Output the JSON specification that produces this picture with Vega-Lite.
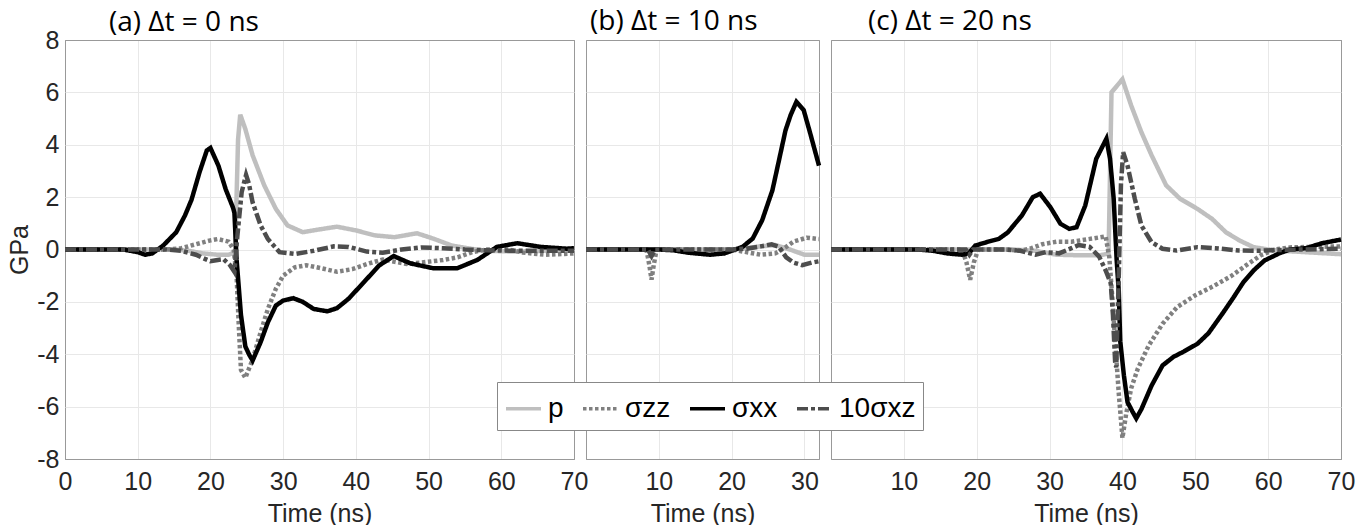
{
"$schema": "https://vega.github.io/schema/vega-lite/v6.json",
"padding": {"left": 7, "top": 7, "right": 0, "bottom": 0},
"background": "white",
"spacing": 12,
"bounds": "flush",
"data": {"values": [
{"g":"a","s":"p","t":0,"v":0},{"g":"a","s":"p","t":10,"v":0},{"g":"a","s":"p","t":15,"v":0},{"g":"a","s":"p","t":17,"v":-0.05},{"g":"a","s":"p","t":19,"v":-0.15},{"g":"a","s":"p","t":21,"v":-0.2},{"g":"a","s":"p","t":22.5,"v":-0.2},{"g":"a","s":"p","t":23.4,"v":-0.1},{"g":"a","s":"p","t":23.8,"v":4.2},{"g":"a","s":"p","t":24.1,"v":5.15},{"g":"a","s":"p","t":24.8,"v":4.6},{"g":"a","s":"p","t":25.8,"v":3.6},{"g":"a","s":"p","t":27.4,"v":2.45},{"g":"a","s":"p","t":29,"v":1.55},{"g":"a","s":"p","t":30.6,"v":0.92},{"g":"a","s":"p","t":32.7,"v":0.66},{"g":"a","s":"p","t":34.8,"v":0.76},{"g":"a","s":"p","t":37.4,"v":0.87},{"g":"a","s":"p","t":40,"v":0.73},{"g":"a","s":"p","t":42.6,"v":0.54},{"g":"a","s":"p","t":45.3,"v":0.47},{"g":"a","s":"p","t":48.4,"v":0.62},{"g":"a","s":"p","t":50.6,"v":0.42},{"g":"a","s":"p","t":53.2,"v":0.15},{"g":"a","s":"p","t":55.8,"v":0.03},{"g":"a","s":"p","t":58,"v":-0.05},{"g":"a","s":"p","t":62,"v":-0.08},{"g":"a","s":"p","t":66,"v":-0.05},{"g":"a","s":"p","t":70,"v":-0.05},
{"g":"a","s":"σzz","t":0,"v":0},{"g":"a","s":"σzz","t":14,"v":0},{"g":"a","s":"σzz","t":16,"v":0.05},{"g":"a","s":"σzz","t":18,"v":0.2},{"g":"a","s":"σzz","t":20,"v":0.35},{"g":"a","s":"σzz","t":21,"v":0.4},{"g":"a","s":"σzz","t":22.5,"v":0.3},{"g":"a","s":"σzz","t":23.2,"v":0},{"g":"a","s":"σzz","t":23.6,"v":-1.0},{"g":"a","s":"σzz","t":23.9,"v":-2.9},{"g":"a","s":"σzz","t":24.2,"v":-4.6},{"g":"a","s":"σzz","t":24.8,"v":-4.9},{"g":"a","s":"σzz","t":25.8,"v":-4.2},{"g":"a","s":"σzz","t":26.9,"v":-3.16},{"g":"a","s":"σzz","t":27.9,"v":-2.27},{"g":"a","s":"σzz","t":29,"v":-1.5},{"g":"a","s":"σzz","t":30,"v":-1.0},{"g":"a","s":"σzz","t":31.6,"v":-0.68},{"g":"a","s":"σzz","t":33.2,"v":-0.6},{"g":"a","s":"σzz","t":35.3,"v":-0.72},{"g":"a","s":"σzz","t":37.4,"v":-0.85},{"g":"a","s":"σzz","t":39.5,"v":-0.75},{"g":"a","s":"σzz","t":41.6,"v":-0.55},{"g":"a","s":"σzz","t":43.7,"v":-0.38},{"g":"a","s":"σzz","t":45,"v":-0.45},{"g":"a","s":"σzz","t":47,"v":-0.55},{"g":"a","s":"σzz","t":49,"v":-0.5},{"g":"a","s":"σzz","t":52,"v":-0.4},{"g":"a","s":"σzz","t":54,"v":-0.3},{"g":"a","s":"σzz","t":56,"v":-0.1},{"g":"a","s":"σzz","t":58,"v":0},{"g":"a","s":"σzz","t":61,"v":0},{"g":"a","s":"σzz","t":63,"v":-0.12},{"g":"a","s":"σzz","t":66,"v":-0.2},{"g":"a","s":"σzz","t":70,"v":-0.15},
{"g":"a","s":"σxx","t":0,"v":0},{"g":"a","s":"σxx","t":8,"v":0},{"g":"a","s":"σxx","t":10,"v":-0.1},{"g":"a","s":"σxx","t":11,"v":-0.2},{"g":"a","s":"σxx","t":12,"v":-0.15},{"g":"a","s":"σxx","t":13.5,"v":0.15},{"g":"a","s":"σxx","t":15.3,"v":0.66},{"g":"a","s":"σxx","t":16.5,"v":1.3},{"g":"a","s":"σxx","t":17.4,"v":1.9},{"g":"a","s":"σxx","t":18.5,"v":2.95},{"g":"a","s":"σxx","t":19.5,"v":3.78},{"g":"a","s":"σxx","t":20,"v":3.88},{"g":"a","s":"σxx","t":21.1,"v":3.2},{"g":"a","s":"σxx","t":22.1,"v":2.3},{"g":"a","s":"σxx","t":23.1,"v":1.6},{"g":"a","s":"σxx","t":23.3,"v":1.4},{"g":"a","s":"σxx","t":23.6,"v":-0.4},{"g":"a","s":"σxx","t":24.2,"v":-2.5},{"g":"a","s":"σxx","t":24.8,"v":-3.7},{"g":"a","s":"σxx","t":25.3,"v":-4.0},{"g":"a","s":"σxx","t":25.8,"v":-4.24},{"g":"a","s":"σxx","t":26.9,"v":-3.54},{"g":"a","s":"σxx","t":27.9,"v":-2.78},{"g":"a","s":"σxx","t":29,"v":-2.14},{"g":"a","s":"σxx","t":30,"v":-1.95},{"g":"a","s":"σxx","t":31.4,"v":-1.86},{"g":"a","s":"σxx","t":32.7,"v":-2.0},{"g":"a","s":"σxx","t":34.2,"v":-2.27},{"g":"a","s":"σxx","t":36.1,"v":-2.36},{"g":"a","s":"σxx","t":37.4,"v":-2.24},{"g":"a","s":"σxx","t":39,"v":-1.88},{"g":"a","s":"σxx","t":41.1,"v":-1.25},{"g":"a","s":"σxx","t":43.2,"v":-0.61},{"g":"a","s":"σxx","t":45.2,"v":-0.25},{"g":"a","s":"σxx","t":47.5,"v":-0.53},{"g":"a","s":"σxx","t":50.7,"v":-0.72},{"g":"a","s":"σxx","t":53.9,"v":-0.72},{"g":"a","s":"σxx","t":56.7,"v":-0.4},{"g":"a","s":"σxx","t":59.4,"v":0.1},{"g":"a","s":"σxx","t":62.2,"v":0.24},{"g":"a","s":"σxx","t":65.4,"v":0.1},{"g":"a","s":"σxx","t":69,"v":0.03},{"g":"a","s":"σxx","t":70,"v":0.05},
{"g":"a","s":"10σxz","t":0,"v":0},{"g":"a","s":"10σxz","t":14,"v":0},{"g":"a","s":"10σxz","t":16,"v":-0.05},{"g":"a","s":"10σxz","t":18,"v":-0.2},{"g":"a","s":"10σxz","t":19,"v":-0.33},{"g":"a","s":"10σxz","t":20,"v":-0.45},{"g":"a","s":"10σxz","t":21,"v":-0.4},{"g":"a","s":"10σxz","t":21.8,"v":-0.37},{"g":"a","s":"10σxz","t":22.7,"v":-0.6},{"g":"a","s":"10σxz","t":23.3,"v":-0.85},{"g":"a","s":"10σxz","t":23.7,"v":0.5},{"g":"a","s":"10σxz","t":24.3,"v":2.2},{"g":"a","s":"10σxz","t":24.9,"v":2.85},{"g":"a","s":"10σxz","t":25.3,"v":2.5},{"g":"a","s":"10σxz","t":25.8,"v":1.8},{"g":"a","s":"10σxz","t":26.9,"v":0.92},{"g":"a","s":"10σxz","t":27.9,"v":0.4},{"g":"a","s":"10σxz","t":29.5,"v":-0.1},{"g":"a","s":"10σxz","t":31.6,"v":-0.17},{"g":"a","s":"10σxz","t":34.2,"v":-0.05},{"g":"a","s":"10σxz","t":37,"v":0.12},{"g":"a","s":"10σxz","t":39,"v":0.1},{"g":"a","s":"10σxz","t":41.5,"v":-0.08},{"g":"a","s":"10σxz","t":43.7,"v":-0.12},{"g":"a","s":"10σxz","t":46.3,"v":0},{"g":"a","s":"10σxz","t":49,"v":0.08},{"g":"a","s":"10σxz","t":52,"v":0.05},{"g":"a","s":"10σxz","t":55,"v":0},{"g":"a","s":"10σxz","t":58,"v":-0.03},{"g":"a","s":"10σxz","t":62,"v":-0.05},{"g":"a","s":"10σxz","t":66,"v":-0.05},{"g":"a","s":"10σxz","t":70,"v":-0.05},
{"g":"b","s":"p","t":0,"v":0},{"g":"b","s":"p","t":20,"v":0},{"g":"b","s":"p","t":22,"v":0.05},{"g":"b","s":"p","t":24,"v":0.12},{"g":"b","s":"p","t":26,"v":0.17},{"g":"b","s":"p","t":28,"v":0},{"g":"b","s":"p","t":30,"v":-0.2},{"g":"b","s":"p","t":32,"v":-0.2},
{"g":"b","s":"σzz","t":0,"v":0},{"g":"b","s":"σzz","t":8.3,"v":0},{"g":"b","s":"σzz","t":8.7,"v":-0.6},{"g":"b","s":"σzz","t":9,"v":-1.15},{"g":"b","s":"σzz","t":9.3,"v":-0.6},{"g":"b","s":"σzz","t":9.7,"v":0},{"g":"b","s":"σzz","t":20,"v":0},{"g":"b","s":"σzz","t":22,"v":-0.1},{"g":"b","s":"σzz","t":24,"v":-0.2},{"g":"b","s":"σzz","t":26,"v":-0.15},{"g":"b","s":"σzz","t":27.5,"v":0.1},{"g":"b","s":"σzz","t":28.5,"v":0.3},{"g":"b","s":"σzz","t":30.3,"v":0.45},{"g":"b","s":"σzz","t":32,"v":0.4},
{"g":"b","s":"σxx","t":0,"v":0},{"g":"b","s":"σxx","t":10,"v":0},{"g":"b","s":"σxx","t":12,"v":-0.03},{"g":"b","s":"σxx","t":14,"v":-0.12},{"g":"b","s":"σxx","t":17,"v":-0.2},{"g":"b","s":"σxx","t":19,"v":-0.15},{"g":"b","s":"σxx","t":20.5,"v":0},{"g":"b","s":"σxx","t":21.5,"v":0.1},{"g":"b","s":"σxx","t":22.9,"v":0.42},{"g":"b","s":"σxx","t":24.2,"v":1.12},{"g":"b","s":"σxx","t":25.6,"v":2.26},{"g":"b","s":"σxx","t":26.5,"v":3.4},{"g":"b","s":"σxx","t":27.4,"v":4.55},{"g":"b","s":"σxx","t":28.1,"v":5.13},{"g":"b","s":"σxx","t":28.9,"v":5.64},{"g":"b","s":"σxx","t":29.9,"v":5.32},{"g":"b","s":"σxx","t":30.8,"v":4.43},{"g":"b","s":"σxx","t":32,"v":3.2},
{"g":"b","s":"10σxz","t":0,"v":0},{"g":"b","s":"10σxz","t":8.5,"v":0},{"g":"b","s":"10σxz","t":9,"v":-0.25},{"g":"b","s":"10σxz","t":9.5,"v":0},{"g":"b","s":"10σxz","t":20,"v":0},{"g":"b","s":"10σxz","t":22,"v":0.03},{"g":"b","s":"10σxz","t":24,"v":0.12},{"g":"b","s":"10σxz","t":25.5,"v":0.2},{"g":"b","s":"10σxz","t":26.5,"v":0.1},{"g":"b","s":"10σxz","t":27.5,"v":-0.3},{"g":"b","s":"10σxz","t":28.5,"v":-0.5},{"g":"b","s":"10σxz","t":29.7,"v":-0.6},{"g":"b","s":"10σxz","t":31,"v":-0.5},{"g":"b","s":"10σxz","t":32,"v":-0.45},
{"g":"c","s":"p","t":0,"v":0},{"g":"c","s":"p","t":20,"v":0},{"g":"c","s":"p","t":25,"v":0},{"g":"c","s":"p","t":28,"v":-0.05},{"g":"c","s":"p","t":31,"v":-0.2},{"g":"c","s":"p","t":34,"v":-0.22},{"g":"c","s":"p","t":37,"v":-0.22},{"g":"c","s":"p","t":38.1,"v":-0.15},{"g":"c","s":"p","t":38.5,"v":6.0},{"g":"c","s":"p","t":40,"v":6.5},{"g":"c","s":"p","t":41.2,"v":5.5},{"g":"c","s":"p","t":42.6,"v":4.48},{"g":"c","s":"p","t":44,"v":3.6},{"g":"c","s":"p","t":46,"v":2.45},{"g":"c","s":"p","t":47.9,"v":1.94},{"g":"c","s":"p","t":50.3,"v":1.55},{"g":"c","s":"p","t":52.3,"v":1.17},{"g":"c","s":"p","t":54.2,"v":0.66},{"g":"c","s":"p","t":56.1,"v":0.34},{"g":"c","s":"p","t":58,"v":0.09},{"g":"c","s":"p","t":60,"v":0},{"g":"c","s":"p","t":62,"v":-0.05},{"g":"c","s":"p","t":65,"v":-0.1},{"g":"c","s":"p","t":70,"v":-0.18},
{"g":"c","s":"σzz","t":0,"v":0},{"g":"c","s":"σzz","t":18,"v":0},{"g":"c","s":"σzz","t":18.6,"v":-0.5},{"g":"c","s":"σzz","t":19.1,"v":-1.16},{"g":"c","s":"σzz","t":19.6,"v":-0.5},{"g":"c","s":"σzz","t":20.2,"v":0},{"g":"c","s":"σzz","t":24,"v":0},{"g":"c","s":"σzz","t":26,"v":-0.05},{"g":"c","s":"σzz","t":27.5,"v":0.05},{"g":"c","s":"σzz","t":29,"v":0.2},{"g":"c","s":"σzz","t":31,"v":0.3},{"g":"c","s":"σzz","t":33,"v":0.3},{"g":"c","s":"σzz","t":35,"v":0.38},{"g":"c","s":"σzz","t":37.7,"v":0.5},{"g":"c","s":"σzz","t":38.2,"v":-0.3},{"g":"c","s":"σzz","t":38.6,"v":-1.8},{"g":"c","s":"σzz","t":39,"v":-3.5},{"g":"c","s":"σzz","t":39.5,"v":-5.5},{"g":"c","s":"σzz","t":40,"v":-7.2},{"g":"c","s":"σzz","t":40.5,"v":-6.3},{"g":"c","s":"σzz","t":41.2,"v":-5.3},{"g":"c","s":"σzz","t":42.1,"v":-4.56},{"g":"c","s":"σzz","t":43.6,"v":-3.67},{"g":"c","s":"σzz","t":45.5,"v":-2.84},{"g":"c","s":"σzz","t":47.5,"v":-2.2},{"g":"c","s":"σzz","t":50,"v":-1.75},{"g":"c","s":"σzz","t":52.5,"v":-1.4},{"g":"c","s":"σzz","t":55,"v":-1.0},{"g":"c","s":"σzz","t":57,"v":-0.6},{"g":"c","s":"σzz","t":59,"v":-0.22},{"g":"c","s":"σzz","t":61,"v":0},{"g":"c","s":"σzz","t":63,"v":0.08},{"g":"c","s":"σzz","t":66,"v":0.1},{"g":"c","s":"σzz","t":70,"v":0.12},
{"g":"c","s":"σxx","t":0,"v":0},{"g":"c","s":"σxx","t":12,"v":0},{"g":"c","s":"σxx","t":14,"v":-0.05},{"g":"c","s":"σxx","t":16,"v":-0.15},{"g":"c","s":"σxx","t":18,"v":-0.2},{"g":"c","s":"σxx","t":18.9,"v":-0.15},{"g":"c","s":"σxx","t":19.8,"v":0.15},{"g":"c","s":"σxx","t":21.6,"v":0.3},{"g":"c","s":"σxx","t":23,"v":0.4},{"g":"c","s":"σxx","t":24.3,"v":0.66},{"g":"c","s":"σxx","t":25,"v":0.9},{"g":"c","s":"σxx","t":26.2,"v":1.3},{"g":"c","s":"σxx","t":27.7,"v":2.0},{"g":"c","s":"σxx","t":28.7,"v":2.13},{"g":"c","s":"σxx","t":30.1,"v":1.62},{"g":"c","s":"σxx","t":31.5,"v":0.98},{"g":"c","s":"σxx","t":32.7,"v":0.79},{"g":"c","s":"σxx","t":33.7,"v":0.85},{"g":"c","s":"σxx","t":34.9,"v":1.68},{"g":"c","s":"σxx","t":36.4,"v":3.46},{"g":"c","s":"σxx","t":37.8,"v":4.23},{"g":"c","s":"σxx","t":38.3,"v":3.46},{"g":"c","s":"σxx","t":38.8,"v":1.94},{"g":"c","s":"σxx","t":39.2,"v":-0.36},{"g":"c","s":"σxx","t":39.5,"v":-1.6},{"g":"c","s":"σxx","t":39.7,"v":-3.5},{"g":"c","s":"σxx","t":40.2,"v":-4.8},{"g":"c","s":"σxx","t":40.7,"v":-5.83},{"g":"c","s":"σxx","t":41.4,"v":-6.2},{"g":"c","s":"σxx","t":41.9,"v":-6.45},{"g":"c","s":"σxx","t":42.6,"v":-6.1},{"g":"c","s":"σxx","t":44,"v":-5.2},{"g":"c","s":"σxx","t":45.5,"v":-4.43},{"g":"c","s":"σxx","t":47,"v":-4.1},{"g":"c","s":"σxx","t":48.4,"v":-3.9},{"g":"c","s":"σxx","t":50.3,"v":-3.6},{"g":"c","s":"σxx","t":51.8,"v":-3.2},{"g":"c","s":"σxx","t":53.7,"v":-2.46},{"g":"c","s":"σxx","t":55.2,"v":-1.85},{"g":"c","s":"σxx","t":56.6,"v":-1.25},{"g":"c","s":"σxx","t":58,"v":-0.8},{"g":"c","s":"σxx","t":59.5,"v":-0.42},{"g":"c","s":"σxx","t":61.5,"v":-0.15},{"g":"c","s":"σxx","t":63,"v":0},{"g":"c","s":"σxx","t":65.2,"v":0.05},{"g":"c","s":"σxx","t":67.4,"v":0.24},{"g":"c","s":"σxx","t":70,"v":0.38},
{"g":"c","s":"10σxz","t":0,"v":0},{"g":"c","s":"10σxz","t":18.5,"v":0},{"g":"c","s":"10σxz","t":19,"v":-0.2},{"g":"c","s":"10σxz","t":19.5,"v":0},{"g":"c","s":"10σxz","t":24,"v":0},{"g":"c","s":"10σxz","t":26,"v":-0.05},{"g":"c","s":"10σxz","t":28.1,"v":-0.2},{"g":"c","s":"10σxz","t":29.5,"v":-0.1},{"g":"c","s":"10σxz","t":31.3,"v":-0.15},{"g":"c","s":"10σxz","t":33,"v":0.05},{"g":"c","s":"10σxz","t":34,"v":0.17},{"g":"c","s":"10σxz","t":35.5,"v":0.1},{"g":"c","s":"10σxz","t":36.8,"v":-0.27},{"g":"c","s":"10σxz","t":37.7,"v":-0.8},{"g":"c","s":"10σxz","t":38.4,"v":-1.3},{"g":"c","s":"10σxz","t":38.7,"v":-2.5},{"g":"c","s":"10σxz","t":39,"v":-4.3},{"g":"c","s":"10σxz","t":39.15,"v":-4.5},{"g":"c","s":"10σxz","t":39.5,"v":-1.0},{"g":"c","s":"10σxz","t":39.8,"v":2.5},{"g":"c","s":"10σxz","t":40.1,"v":3.72},{"g":"c","s":"10σxz","t":40.7,"v":3.2},{"g":"c","s":"10σxz","t":41.7,"v":1.94},{"g":"c","s":"10σxz","t":42.6,"v":0.92},{"g":"c","s":"10σxz","t":44,"v":0.28},{"g":"c","s":"10σxz","t":45.5,"v":0.03},{"g":"c","s":"10σxz","t":47.4,"v":-0.04},{"g":"c","s":"10σxz","t":50.3,"v":0.09},{"g":"c","s":"10σxz","t":52.7,"v":0.05},{"g":"c","s":"10σxz","t":56,"v":-0.04},{"g":"c","s":"10σxz","t":58.5,"v":-0.05},{"g":"c","s":"10σxz","t":61,"v":-0.02},{"g":"c","s":"10σxz","t":65,"v":0},{"g":"c","s":"10σxz","t":70,"v":0.03}
]},
"hconcat": [
{
"width": 509, "height": 419,
"title": {"text": "(a) Δt = 0 ns", "anchor": "start", "frame": "group", "dx": 44, "dy": 13},
"transform": [{"filter": "datum.g === 'a'"}],
"mark": {"type": "line", "strokeWidth": 4.5, "strokeCap": "butt"},
"encoding": {
"x": {"field": "t", "type": "quantitative", "scale": {"domain": [0, 70], "nice": false}, "axis": {"values": [0, 10, 20, 30, 40, 50, 60, 70], "title": "Time (ns)", "gridColor": {"condition": {"test": "datum.value == 0 || datum.value == 70", "value": "#999999"}, "value": "#e8e8e8"}}},
"y": {"field": "v", "type": "quantitative", "scale": {"domain": [-8, 8], "nice": false}, "axis": {"values": [-8, -6, -4, -2, 0, 2, 4, 6, 8], "labelExpr": "'' + datum.value", "title": "GPa", "labelPadding": 6, "titlePadding": 4, "gridColor": {"condition": {"test": "abs(datum.value) == 8", "value": "#999999"}, "value": "#e8e8e8"}}},
"color": {"field": "s", "type": "nominal", "scale": {"domain": ["p", "σzz", "σxx", "10σxz"], "range": ["#bfbfbf", "#808080", "#000000", "#4d4d4d"]},
"legend": {"title": null, "orient": "none", "legendX": 432, "legendY": 342, "direction": "horizontal", "columns": 4, "symbolType": "stroke", "symbolSize": 1225, "symbolStrokeWidth": 3.5, "labelFontSize": 28, "labelFont": "Liberation Sans", "labelColor": "#000000", "fillColor": "white", "strokeColor": "#888888", "padding": 7, "columnPadding": 12, "labelOffset": 5}},
"strokeDash": {"field": "s", "type": "nominal", "scale": {"domain": ["p", "σzz", "σxx", "10σxz"], "range": [[1, 0], [3.5, 2.5], [1, 0], [11, 3, 4, 3]]}}
}
},
{
"width": 233, "height": 419,
"title": {"text": "(b) Δt = 10 ns", "anchor": "start", "frame": "group", "dx": 4},
"transform": [{"filter": "datum.g === 'b'"}],
"mark": {"type": "line", "strokeWidth": 4.5, "strokeCap": "butt"},
"encoding": {
"x": {"field": "t", "type": "quantitative", "scale": {"domain": [0, 32], "nice": false}, "axis": {"values": [10, 20, 30], "title": "Time (ns)"}},
"y": {"field": "v", "type": "quantitative", "scale": {"domain": [-8, 8], "nice": false}, "axis": {"values": [-8, -6, -4, -2, 0, 2, 4, 6, 8], "title": null, "labels": false, "gridColor": {"condition": {"test": "abs(datum.value) == 8", "value": "#999999"}, "value": "#e8e8e8"}}},
"color": {"field": "s", "type": "nominal", "scale": {"domain": ["p", "σzz", "σxx", "10σxz"], "range": ["#bfbfbf", "#808080", "#000000", "#4d4d4d"]}},
"strokeDash": {"field": "s", "type": "nominal", "scale": {"domain": ["p", "σzz", "σxx", "10σxz"], "range": [[1, 0], [3.5, 2.5], [1, 0], [11, 3, 4, 3]]}}
}
},
{
"width": 510, "height": 419,
"title": {"text": "(c) Δt = 20 ns", "anchor": "start", "frame": "group", "dx": 37},
"transform": [{"filter": "datum.g === 'c'"}],
"mark": {"type": "line", "strokeWidth": 4.5, "strokeCap": "butt"},
"encoding": {
"x": {"field": "t", "type": "quantitative", "scale": {"domain": [0, 70], "nice": false}, "axis": {"values": [10, 20, 30, 40, 50, 60, 70], "title": "Time (ns)", "gridColor": {"condition": {"test": "datum.value == 70", "value": "#999999"}, "value": "#e8e8e8"}}},
"y": {"field": "v", "type": "quantitative", "scale": {"domain": [-8, 8], "nice": false}, "axis": {"values": [-8, -6, -4, -2, 0, 2, 4, 6, 8], "title": null, "labels": false, "gridColor": {"condition": {"test": "abs(datum.value) == 8", "value": "#999999"}, "value": "#e8e8e8"}}},
"color": {"field": "s", "type": "nominal", "scale": {"domain": ["p", "σzz", "σxx", "10σxz"], "range": ["#bfbfbf", "#808080", "#000000", "#4d4d4d"]}},
"strokeDash": {"field": "s", "type": "nominal", "scale": {"domain": ["p", "σzz", "σxx", "10σxz"], "range": [[1, 0], [3.5, 2.5], [1, 0], [11, 3, 4, 3]]}}
}
}
],
"config": {
"view": {"stroke": "#999999", "strokeWidth": 1},
"font": "Liberation Sans",
"title": {"font": "Open Sans", "fontSize": 28, "fontWeight": "normal", "color": "#000000", "offset": 4},
"axis": {"labelFont": "Liberation Sans", "labelFontSize": 25, "labelColor": "#262626", "titleFont": "Liberation Sans", "titleFontSize": 25, "titleFontWeight": "normal", "titleColor": "#262626", "gridColor": "#e8e8e8", "gridWidth": 1, "grid": true, "domain": false, "ticks": false, "labelFlush": false, "labelOverlap": false},
"axisX": {"labelPadding": 10, "titlePadding": 7}
}
}
